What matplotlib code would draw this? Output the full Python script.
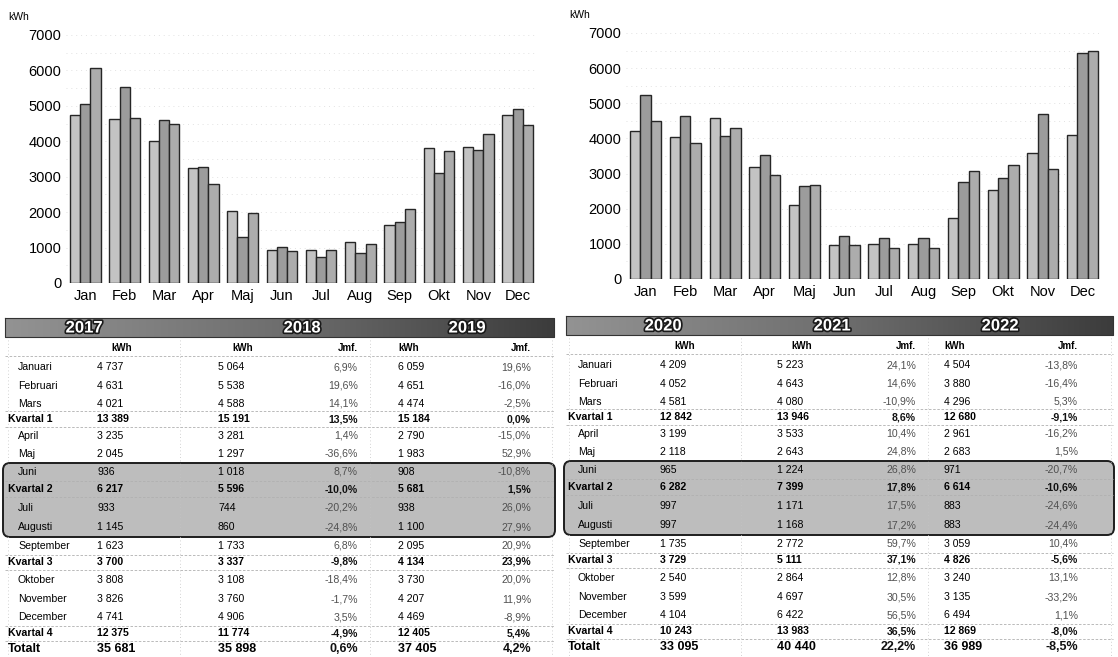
import numpy as np
import matplotlib
matplotlib.use("Agg")
import matplotlib.pyplot as plt
from matplotlib.patches import FancyBboxPatch
import matplotlib.patheffects as pe

plt.rcParams["font.family"] = ["Liberation Sans", "DejaVu Sans"]

W, H = 1118, 657

# ---------------------------------------------------------------- data
months_short = ["Jan", "Feb", "Mar", "Apr", "Maj", "Jun",
                "Jul", "Aug", "Sep", "Okt", "Nov", "Dec"]
months_long = ["Januari", "Februari", "Mars", "April", "Maj", "Juni",
               "Juli", "Augusti", "September", "Oktober", "November", "December"]

kwh_2017 = [4737, 4631, 4021, 3235, 2045, 936, 933, 1145, 1623, 3808, 3826, 4741]
kwh_2018 = [5064, 5538, 4588, 3281, 1297, 1018, 744, 860, 1733, 3108, 3760, 4906]
kwh_2019 = [6059, 4651, 4474, 2790, 1983, 908, 938, 1100, 2095, 3730, 4207, 4469]
kwh_2020 = [4209, 4052, 4581, 3199, 2118, 965, 997, 997, 1735, 2540, 3599, 4104]
kwh_2021 = [5223, 4643, 4080, 3533, 2643, 1224, 1171, 1168, 2772, 2864, 4697, 6422]
kwh_2022 = [4504, 3880, 4296, 2961, 2683, 971, 883, 883, 3059, 3240, 3135, 6494]

quarters_2017 = [13389, 6217, 3700, 12375]
quarters_2018 = [15191, 5596, 3337, 11774]
quarters_2019 = [15184, 5681, 4134, 12405]
quarters_2020 = [12842, 6282, 3729, 10243]
quarters_2021 = [13946, 7399, 5111, 13983]
quarters_2022 = [12680, 6614, 4826, 12869]

total_2017, total_2018, total_2019 = 35681, 35898, 37405
total_2020, total_2021, total_2022 = 33095, 40440, 36989

jmf_month_2018 = ["6,9%", "19,6%", "14,1%", "1,4%", "-36,6%", "8,7%",
                  "-20,2%", "-24,8%", "6,8%", "-18,4%", "-1,7%", "3,5%"]
jmf_quarter_2018 = ["13,5%", "-10,0%", "-9,8%", "-4,9%"]
jmf_total_2018 = "0,6%"
jmf_month_2019 = ["19,6%", "-16,0%", "-2,5%", "-15,0%", "52,9%", "-10,8%",
                  "26,0%", "27,9%", "20,9%", "20,0%", "11,9%", "-8,9%"]
jmf_quarter_2019 = ["0,0%", "1,5%", "23,9%", "5,4%"]
jmf_total_2019 = "4,2%"
jmf_month_2021 = ["24,1%", "14,6%", "-10,9%", "10,4%", "24,8%", "26,8%",
                  "17,5%", "17,2%", "59,7%", "12,8%", "30,5%", "56,5%"]
jmf_quarter_2021 = ["8,6%", "17,8%", "37,1%", "36,5%"]
jmf_total_2021 = "22,2%"
jmf_month_2022 = ["-13,8%", "-16,4%", "5,3%", "-16,2%", "1,5%", "-20,7%",
                  "-24,6%", "-24,4%", "10,4%", "13,1%", "-33,2%", "1,1%"]
jmf_quarter_2022 = ["-9,1%", "-10,6%", "-5,6%", "-8,0%"]
jmf_total_2022 = "-8,5%"

bar_colors = ["#c3c3c3", "#9c9c9c", "#acacac"]

fig = plt.figure(figsize=(W / 100, H / 100), dpi=100)
fig.patch.set_facecolor("white")


def px_axes(left, top, right, bottom):
    return fig.add_axes([left / W, 1 - bottom / H, (right - left) / W, (bottom - top) / H])


def bar_chart(left, top, right, bottom, series, label_xy):
    ax = px_axes(left, top, right, bottom)
    x = np.arange(len(months_short))
    bw = 0.26
    for i, vals in enumerate(series):
        ax.bar(x + (i - 1) * bw, vals, width=bw, color=bar_colors[i],
               edgecolor="#262626", linewidth=1.0, zorder=3)
    ax.set_xlim(-0.5, 11.5)
    ax.set_ylim(0, 7000)
    ax.set_yticks(range(0, 7001, 1000))
    ax.set_yticks(range(500, 7000, 1000), minor=True)
    ax.set_xticks(x)
    ax.set_xticklabels(months_short, fontsize=10.5)
    ax.tick_params(axis="y", labelsize=10.5, length=0, pad=3)
    ax.tick_params(axis="x", length=0, pad=4)
    ax.tick_params(axis="y", which="minor", length=0)
    ax.grid(axis="y", which="both", color="#e2e2e2", linestyle=(0, (1, 4)),
            linewidth=0.7, zorder=0)
    for s in ax.spines.values():
        s.set_visible(False)
    fig.text(label_xy[0] / W, 1 - label_xy[1] / H, "kWh", fontsize=7.5,
             ha="left", va="center")
    return ax


bar_chart(65.7, 35, 537.3, 283, [kwh_2017, kwh_2018, kwh_2019], (8, 17))
bar_chart(625.7, 33, 1102.4, 279, [kwh_2020, kwh_2021, kwh_2022], (569, 15))

# ---------------------------------------------------------------- tables
tax = fig.add_axes([0, 0, 1, 1])
tax.set_xlim(0, W)
tax.set_ylim(H, 0)
tax.axis("off")


def fmt(v):
    return f"{v:,}".replace(",", " ")


header_cmap = matplotlib.colors.LinearSegmentedColormap.from_list(
    "hdr", ["#939393", "#6e6e6e", "#3c3c3c"])


def draw_table(x0, x1, dy, years, first, second, third, cols):
    # cols: label, kwh_a, kwh_b, jmf_b (right), kwh_c, jmf_c (right), year centres
    c_lab, c_a, c_b, j_b, c_c, j_c, yc = cols
    # header bar with a light-to-dark gradient
    grad = np.linspace(0, 1, 256)[None, :]
    tax.imshow(grad, extent=[x0, x1, 337 + dy, 318 + dy], cmap=header_cmap,
               aspect="auto", zorder=1)
    tax.plot([x0, x1, x1, x0, x0], [318 + dy, 318 + dy, 337 + dy, 337 + dy, 318 + dy],
             color="#333333", lw=0.8, zorder=2)
    for yr, xc in zip(years, yc):
        tax.text(xc, 328 + dy, yr, color="white", fontsize=12, fontweight="bold",
                 ha="center", va="center", zorder=3,
                 path_effects=[pe.withStroke(linewidth=2.4, foreground="#1a1a1a")])

    # highlighted summer rows
    band = FancyBboxPatch((x0 - 2, 463 + dy), (x1 - x0) + 3, 74,
                          boxstyle="round,pad=0,rounding_size=7",
                          facecolor="#bdbdbd", edgecolor="#1e1e1e", lw=1.4, zorder=1)
    tax.add_patch(band)

    # sub header
    sy = 348 + dy
    hs = 7
    tax.text(c_a + 14, sy, "kWh", fontsize=hs, fontweight="bold", ha="left", va="center")
    tax.text(c_b + 14, sy, "kWh", fontsize=hs, fontweight="bold", ha="left", va="center")
    tax.text(j_b, sy, "Jmf.", fontsize=hs, fontweight="bold", ha="right", va="center")
    tax.text(c_c, sy, "kWh", fontsize=hs, fontweight="bold", ha="left", va="center")
    tax.text(j_c, sy, "Jmf.", fontsize=hs, fontweight="bold", ha="right", va="center")

    row_y = [367, 386, 404, 419, 436, 454, 472, 489, 508, 527, 546, 562,
             580, 599, 617, 633, 649]
    rows = []
    for q in range(4):
        for m in range(3):
            k = q * 3 + m
            rows.append(("m", months_long[k], first[0][k], second[0][k], second[1][k],
                         third[0][k], third[1][k]))
        rows.append(("q", f"Kvartal {q + 1}", first[1][q], second[2][q], second[3][q],
                     third[2][q], third[3][q]))
    rows.append(("t", "Totalt", first[2], second[4], second[5], third[4], third[5]))

    for (kind, lab, a, b, jb, c, jc), y in zip(rows, row_y):
        y = y + dy
        if kind == "m":
            fs, fw, lx, jcol = 7.6, "normal", c_lab + 10, "#505050"
        elif kind == "q":
            fs, fw, lx, jcol = 7.6, "bold", c_lab, "#111111"
        else:
            fs, fw, lx, jcol = 9, "bold", c_lab, "#111111"
        tax.text(lx, y, lab, fontsize=fs, fontweight=fw, ha="left", va="center", zorder=3)
        tax.text(c_a, y, fmt(a), fontsize=fs, fontweight=fw, ha="left", va="center", zorder=3)
        tax.text(c_b, y, fmt(b), fontsize=fs, fontweight=fw, ha="left", va="center", zorder=3)
        tax.text(j_b, y, jb, fontsize=fs, fontweight=fw,
                 color=jcol, ha="right", va="center", zorder=3)
        tax.text(c_c, y, fmt(c), fontsize=fs, fontweight=fw, ha="left", va="center", zorder=3)
        tax.text(j_c, y, jc, fontsize=fs, fontweight=fw,
                 color=jcol, ha="right", va="center", zorder=3)

    # faint row separators
    for yl in [356, 411, 427, 481, 497, 555, 570, 626, 641]:
        tax.plot([x0, x1], [yl + dy, yl + dy], color="#b0b0b0", lw=0.6,
                 linestyle=(0, (3, 2)), zorder=2)
    # faint column separators
    for xl in [x0 + 3, (c_a + c_b) / 2 + 22, j_b + 12, x1 - 2]:
        tax.plot([xl, xl], [340 + dy, 657], color="#c4c4c4", lw=0.6,
                 linestyle=(0, (1, 3)), zorder=2)


draw_table(5, 554, 0, ["2017", "2018", "2019"],
           (kwh_2017, quarters_2017, total_2017),
           (kwh_2018, jmf_month_2018, quarters_2018, jmf_quarter_2018, total_2018, jmf_total_2018),
           (kwh_2019, jmf_month_2019, quarters_2019, jmf_quarter_2019, total_2019, jmf_total_2019),
           (8, 97, 218, 358, 398, 531, (84, 302, 467)))

draw_table(566, 1113, -2, ["2020", "2021", "2022"],
           (kwh_2020, quarters_2020, total_2020),
           (kwh_2021, jmf_month_2021, quarters_2021, jmf_quarter_2021, total_2021, jmf_total_2021),
           (kwh_2022, jmf_month_2022, quarters_2022, jmf_quarter_2022, total_2022, jmf_total_2022),
           (568, 660, 777, 916, 944, 1078, (663, 832, 1000)))

fig.savefig("out.png", dpi=100, facecolor="white")
